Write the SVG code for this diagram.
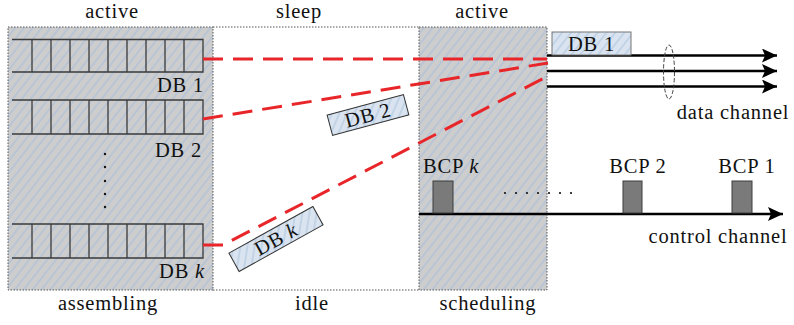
<svg xmlns="http://www.w3.org/2000/svg" width="794" height="325" viewBox="0 0 794 325">
<style>
text{font-family:"Liberation Serif","Times New Roman",serif;font-size:20.5px;letter-spacing:0.8px;fill:#111}
.mid{text-anchor:middle}
.end{text-anchor:end}
.q{fill:none;stroke:#3a3a3a;stroke-width:1.3}
.red{fill:none;stroke:#e8262a;stroke-width:3;stroke-dasharray:20 10}
.dot{fill:#111}
.reg{stroke:#555;stroke-width:1;stroke-dasharray:1.5 1.5}
.ch{stroke:#000;stroke-width:2.6;fill:none}
.bcp{fill:#7a7a7a;stroke:#3c3c3c;stroke-width:1}
.db{fill:url(#hatchLight);stroke:#333;stroke-width:1}
</style>
<defs>
<pattern id="hatchGray" patternUnits="userSpaceOnUse" width="7" height="7" patternTransform="rotate(38)">
<rect width="7" height="7" fill="#cdcdcd"/>
<line x1="1" y1="0" x2="1" y2="7" stroke="#a9bfdc" stroke-width="1.1"/>
</pattern>
<pattern id="hatchLight" patternUnits="userSpaceOnUse" width="7" height="7" patternTransform="rotate(38)">
<rect width="7" height="7" fill="#d9e4f0"/>
<line x1="1" y1="0" x2="1" y2="7" stroke="#aec3dd" stroke-width="1"/>
</pattern>
<marker id="arr" markerUnits="userSpaceOnUse" markerWidth="16" markerHeight="14" refX="15" refY="7" orient="auto">
<path d="M0,0 L15,7 L0,14 L3,7 Z" fill="#000"/>
</marker>
</defs>
<rect width="794" height="325" fill="#fff"/>

<g id="region-assembling">
<rect x="8" y="27" width="205" height="263" fill="url(#hatchGray)" class="reg"/>
</g>
<g id="region-idle">
<line x1="213" y1="27" x2="419" y2="27" class="reg"/>
<line x1="213" y1="290" x2="419" y2="290" class="reg"/>
</g>
<g id="region-scheduling">
<rect x="419" y="27" width="128" height="263" fill="url(#hatchGray)" class="reg"/>
</g>

<g id="headers">
<text x="112" y="18" class="mid">active</text>
<text x="299" y="18" class="mid">sleep</text>
<text x="482" y="18" class="mid">active</text>
<text x="108" y="310" class="mid">assembling</text>
<text x="312" y="310" class="mid">idle</text>
<text x="488" y="310" class="mid">scheduling</text>
</g>

<g id="queue-db1">
<path class="q" d="M12,39.5 H203 V72 H12 M32,39.5 V72 M51,39.5 V72 M70,39.5 V72 M89,39.5 V72 M108,39.5 V72 M127,39.5 V72 M146,39.5 V72 M165,39.5 V72 M184,39.5 V72"/>
<text x="204" y="92" class="end">DB 1</text>
</g>
<g id="queue-db2">
<path class="q" d="M12,100 H203 V134 H12 M32,100 V134 M51,100 V134 M70,100 V134 M89,100 V134 M108,100 V134 M127,100 V134 M146,100 V134 M165,100 V134 M184,100 V134"/>
<text x="202" y="157" class="end">DB 2</text>
</g>
<g id="queue-dots">
<circle class="dot" cx="105" cy="154" r="1.2"/>
<circle class="dot" cx="105" cy="167" r="1.2"/>
<circle class="dot" cx="105" cy="181" r="1.2"/>
<circle class="dot" cx="105" cy="194" r="1.2"/>
<circle class="dot" cx="105" cy="207" r="1.2"/>
</g>
<g id="queue-dbk">
<path class="q" d="M12,224 H203 V258 H12 M32,224 V258 M51,224 V258 M70,224 V258 M89,224 V258 M108,224 V258 M127,224 V258 M146,224 V258 M165,224 V258 M184,224 V258"/>
<text x="205" y="278" class="end">DB <tspan font-style="italic">k</tspan></text>
</g>

<g id="connectors">
<line class="red" x1="203" y1="59" x2="547" y2="59"/>
<line class="red" x1="203" y1="119" x2="548" y2="63"/>
<polyline class="red" points="203,245 223,245 548,76"/>
<line class="ch" x1="547" y1="55.5" x2="777" y2="55.5" marker-end="url(#arr)"/>
<line class="ch" x1="547" y1="71" x2="777" y2="71" marker-end="url(#arr)"/>
<line class="ch" x1="547" y1="86.5" x2="777" y2="86.5" marker-end="url(#arr)"/>
<ellipse cx="669" cy="72" rx="5.5" ry="27" fill="none" stroke="#444" stroke-width="1" stroke-dasharray="4 2"/>
<line class="ch" x1="419" y1="214" x2="783" y2="214" marker-end="url(#arr)"/>
</g>

<g id="db1-burst">
<rect x="552" y="32" width="79" height="23" class="db" style="stroke:#777"/>
<text x="591.5" y="51" class="mid">DB 1</text>
</g>
<g id="db2-burst" transform="translate(368,115) rotate(-15)">
<rect x="-39.5" y="-10.5" width="79" height="21" class="db"/>
<text x="0" y="7" class="mid">DB 2</text>
</g>
<g id="dbk-burst" transform="translate(276,239) rotate(-29)">
<rect x="-48" y="-10.5" width="96" height="21" class="db"/>
<text x="0" y="7" class="mid">DB <tspan font-style="italic">k</tspan></text>
</g>

<g id="label-data-channel">
<text x="733" y="119" class="mid">data channel</text>
</g>
<g id="label-control-channel">
<text x="718" y="243" class="mid">control channel</text>
</g>

<g id="bcp-k">
<rect class="bcp" x="433" y="181" width="20" height="32"/>
<text x="423" y="173">BCP <tspan font-style="italic">k</tspan></text>
</g>
<g id="bcp-2">
<rect class="bcp" x="623" y="181" width="19" height="32"/>
<text x="638" y="173" class="mid">BCP 2</text>
</g>
<g id="bcp-1">
<rect class="bcp" x="732" y="181" width="20" height="32"/>
<text x="747" y="173" class="mid">BCP 1</text>
</g>
<g id="bcp-dots">
<circle class="dot" cx="505" cy="193" r="1.1"/>
<circle class="dot" cx="516" cy="193" r="1.1"/>
<circle class="dot" cx="527" cy="193" r="1.1"/>
<circle class="dot" cx="538" cy="193" r="1.1"/>
<circle class="dot" cx="549" cy="193" r="1.1"/>
<circle class="dot" cx="560" cy="193" r="1.1"/>
<circle class="dot" cx="571" cy="193" r="1.1"/>
</g>
</svg>
